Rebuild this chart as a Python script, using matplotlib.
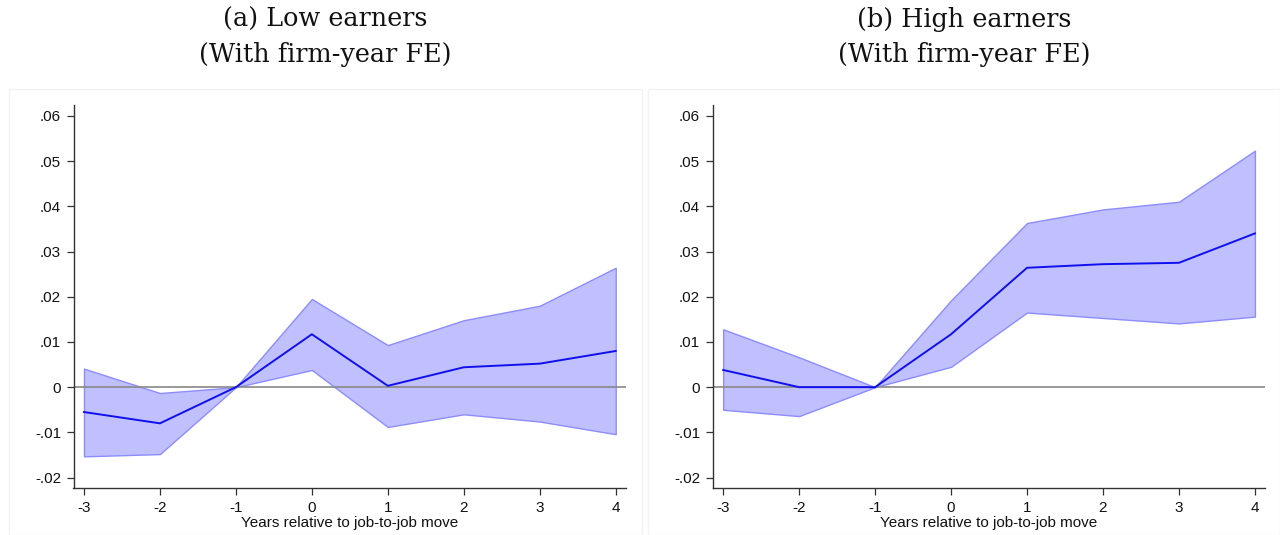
import matplotlib
matplotlib.use("Agg")
import matplotlib.pyplot as plt
from matplotlib.patches import Rectangle
from matplotlib.ticker import FuncFormatter

years = [-3, -2, -1, 0, 1, 2, 3, 4]

low_coef = [-0.0055, -0.0080, 0.0, 0.0117, 0.0003, 0.0044, 0.0052, 0.0080]
low_upper = [0.0041, -0.0013, 0.0, 0.0195, 0.0093, 0.0148, 0.0180, 0.0264]
low_lower = [-0.0153, -0.0148, 0.0, 0.0038, -0.0088, -0.0060, -0.0076, -0.0104]

high_coef = [0.0038, 0.0000, 0.0, 0.0117, 0.0264, 0.0272, 0.0275, 0.0340]
high_upper = [0.0128, 0.0066, 0.0, 0.0192, 0.0363, 0.0393, 0.0410, 0.0523]
high_lower = [-0.0050, -0.0064, 0.0, 0.0045, 0.0165, 0.0153, 0.0141, 0.0156]

title_line1 = ["(a) Low earners", "(b) High earners"]
title_line2 = ["(With firm-year FE)", "(With firm-year FE)"]
y_ticks = [-0.02, -0.01, 0.0, 0.01, 0.02, 0.03, 0.04, 0.05, 0.06]
xlabel = "Years relative to job-to-job move"

plt.rcParams['font.family'] = ['Liberation Sans', 'DejaVu Sans']

fig = plt.figure(figsize=(12.8, 5.35), dpi=100)

def fmt(v, pos):
    if abs(v) < 1e-12:
        return "0"
    s = f"{v:.2f}"
    s = s.replace("0.", ".")
    return s

panel_rects = [(9, 642), (648, 1280)]
axes_lefts = [73.5, 712.7]
W, H = 1280, 535

for i, (coef, up, lo) in enumerate([(low_coef, low_upper, low_lower),
                                     (high_coef, high_upper, high_lower)]):
    # faint panel border
    x0, x1 = panel_rects[i]
    fig.patches.append(Rectangle((x0 / W, 0), (x1 - x0) / W, 1 - 89 / H,
                                 transform=fig.transFigure, fill=False,
                                 edgecolor="#f3f3f3", linewidth=1.0))
    left = axes_lefts[i] / W
    ax = fig.add_axes([left, 1 - 488 / H, 552.7 / W, (488 - 105) / H])
    ax.fill_between(years, lo, up, facecolor="#c0c0ff", edgecolor="#8c8cff",
                    linewidth=1.0, zorder=1)
    ax.axhline(0, color="#888888", linewidth=1.2, zorder=2)
    ax.plot(years, coef, color="#1010ee", linewidth=1.4, zorder=3)
    ax.set_xlim(-3.138, 4.138)
    ax.set_ylim(-0.0223, 0.0624)
    ax.set_xticks(years)
    ax.set_xticklabels([str(y) for y in years])
    ax.set_yticks(y_ticks)
    ax.yaxis.set_major_formatter(FuncFormatter(fmt))
    for s in ["top", "right"]:
        ax.spines[s].set_visible(False)
    for s in ["left", "bottom"]:
        ax.spines[s].set_color("#333333")
        ax.spines[s].set_linewidth(1.0)
    ax.tick_params(axis="both", direction="out", length=5, width=0.9,
                   color="#333333", labelsize=11, labelcolor="#111111", pad=4)
    ax.set_xlabel(xlabel, fontsize=11, color="#111111", labelpad=1)
    cx = (x0 + x1) / 2 / W
    fig.text(cx, 1 - 27 / H, title_line1[i], ha="center", va="baseline",
             family=["DejaVu Serif"], fontsize=18.4, color="#111111")
    fig.text(cx, 1 - 62 / H, title_line2[i], ha="center", va="baseline",
             family=["DejaVu Serif"], fontsize=18.4, color="#111111")

fig.savefig("out.png", dpi=100, facecolor="white")
